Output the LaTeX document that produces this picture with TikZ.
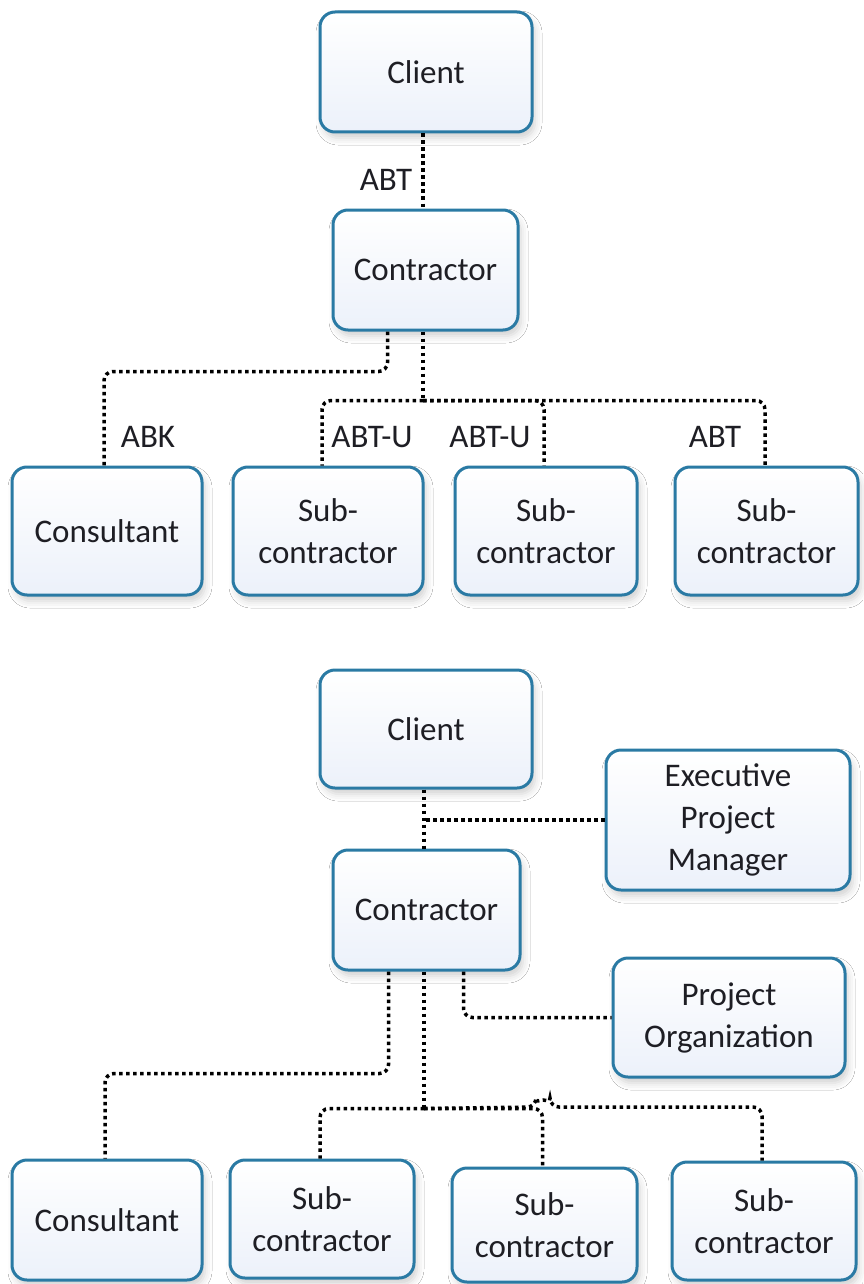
\documentclass[tikz,border=0pt]{standalone}
\usepackage{fontspec}
\setmainfont{Carlito}
\usetikzlibrary{shadows.blur,calc}
\definecolor{boxedge}{RGB}{42,122,164}
\definecolor{boxfill}{RGB}{236,241,250}
\definecolor{ink}{RGB}{30,30,36}
\tikzset{
  unit/.style={draw=boxedge, line width=3pt, rounded corners=15pt,
    top color=white, bottom color=boxfill,
    blur shadow={shadow xshift=3pt, shadow yshift=-6pt, shadow blur radius=7pt, shadow opacity=18},
    align=center, text=ink, font=\fontsize{33}{42}\selectfont,
    inner sep=0pt},
  link/.style={draw=black, line width=3.5pt, dash pattern=on 3.5pt off 3.5pt, rounded corners=9pt},
  tag/.style={text=ink, font=\fontsize{33}{40}\selectfont, inner sep=0pt}
}
\begin{document}
\begin{tikzpicture}[x=1pt,y=-1pt]
\useasboundingbox[fill=white] (0,0) rectangle (863,1284);

% ---- upper chart: contract relations ----
\node[unit, minimum width=212pt, minimum height=120pt] (clientA) at (426,72) {Client};
\node[unit, minimum width=185pt, minimum height=120pt] (contrA) at (425.5,270) {Contractor};
\node[unit, minimum width=190pt, minimum height=128pt] (consA) at (107,531) {Consultant};
\node[unit, minimum width=190pt, minimum height=128pt] (subA1) at (328,531) {Sub-\\contractor};
\node[unit, minimum width=182pt, minimum height=128pt] (subA2) at (546,531) {Sub-\\contractor};
\node[unit, minimum width=183pt, minimum height=128pt] (subA3) at (766.5,531) {Sub-\\contractor};

\draw[link] ([xshift=-3pt]clientA.south) -- ([xshift=-2.5pt]contrA.north);
\draw[link] ([xshift=-38pt]contrA.south) -- ++(0,40) -| ([xshift=-3pt]consA.north);
\draw[link] ([xshift=-2.5pt]contrA.south) -- ++(0,69) coordinate (hubA);
\draw[link] (hubA) -| ([xshift=-6pt]subA1.north);
\draw[link] (hubA) -| ([xshift=-2pt]subA2.north);
\draw[link] (hubA) -| ([xshift=-1.5pt]subA3.north);

\node[tag] (abtA) at (386,180) {ABT};
\node[tag] (abkA) at (148,437) {ABK};
\node[tag] (abtuA1) at (372,437) {ABT-U};
\node[tag] (abtuA2) at (490,437) {ABT-U};
\node[tag] (abtA3) at (715,437) {ABT};

% ---- lower chart: with project management ----
\node[unit, minimum width=212pt, minimum height=118pt] (clientB) at (426,729) {Client};
\node[unit, minimum width=244pt, minimum height=140pt] (epm) at (728,820) {Executive\\Project\\Manager};
\node[unit, minimum width=187pt, minimum height=120pt] (contrB) at (426.5,910) {Contractor};
\node[unit, minimum width=232pt, minimum height=119pt] (porg) at (729,1017.5) {Project\\Organization};
\node[unit, minimum width=190pt, minimum height=120pt] (consB) at (107,1220) {Consultant};
\node[unit, minimum width=184pt, minimum height=118pt] (subB1) at (322,1219) {Sub-\\contractor};
\node[unit, minimum width=185pt, minimum height=114pt] (subB2) at (544.5,1225) {Sub-\\contractor};
\node[unit, minimum width=184pt, minimum height=118pt] (subB3) at (764,1221) {Sub-\\contractor};

\draw[link] ([xshift=-2pt]clientB.south) -- ([xshift=-2.5pt]contrB.north);
\draw[link] (epm.west) -- (424,820) coordinate (tapB);
\draw[link] ([xshift=-38pt]contrB.south) -- ++(0,102) -| ([xshift=-2pt]consB.north);
\draw[link] ([xshift=-2.5pt]contrB.south) -- ++(0,137) coordinate (hubB);
\draw[link] (hubB) -| ([xshift=-2pt]subB1.north);
\draw[link] (hubB) -| ([xshift=-2pt]subB2.north);
\draw[link] (hubB) -- (536,1107) arc[start angle=180, end angle=0, radius=7pt] -| ([xshift=-2pt]subB3.north);
\draw[link] ([xshift=37pt]contrB.south) |- (porg.west);
\end{tikzpicture}
\end{document}
